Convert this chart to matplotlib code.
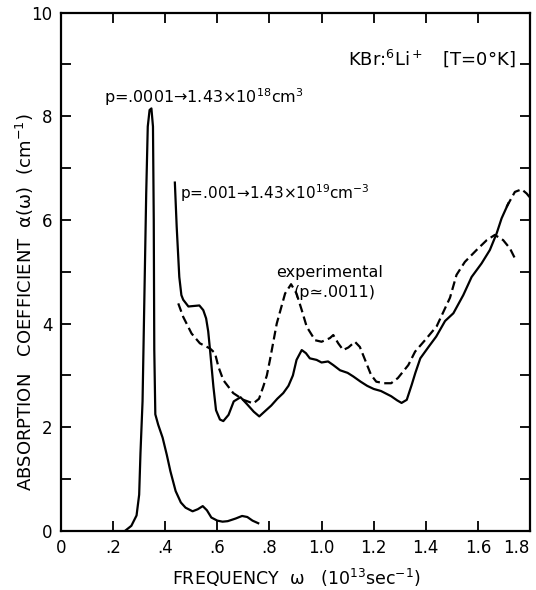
import numpy as np
import matplotlib
matplotlib.use("Agg")
import matplotlib.pyplot as plt

# Courbe p = .0001 (pic étroit)
w_low = [0.245, 0.27, 0.29, 0.30, 0.305, 0.313, 0.32, 0.327, 0.333, 0.34, 0.347, 0.353,
         0.356, 0.358, 0.362, 0.373, 0.39, 0.406, 0.42, 0.44, 0.46, 0.478, 0.505, 0.525,
         0.544, 0.56, 0.577, 0.60, 0.62, 0.64, 0.67, 0.695, 0.715, 0.735, 0.757]
a_low = [0.0, 0.1, 0.3, 0.7, 1.5, 2.5, 4.5, 6.5, 7.8, 8.12, 8.15, 7.8,
         6.0, 3.5, 2.25, 2.05, 1.8, 1.47, 1.15, 0.77, 0.55, 0.45, 0.38, 0.42,
         0.48, 0.40, 0.26, 0.20, 0.18, 0.19, 0.24, 0.29, 0.27, 0.20, 0.15]

# Courbe p = .001 (trait plein)
w_high = [0.437, 0.444, 0.454, 0.462, 0.469, 0.489, 0.51, 0.531, 0.546, 0.557, 0.565, 0.572,
          0.585, 0.595, 0.61, 0.623, 0.643, 0.663, 0.689, 0.715, 0.74, 0.761, 0.785, 0.807,
          0.83, 0.853, 0.873, 0.89, 0.904, 0.924, 0.94, 0.955, 0.981, 1.0, 1.025, 1.045,
          1.071, 1.10, 1.122, 1.15, 1.175, 1.20, 1.228, 1.267, 1.29, 1.307, 1.327, 1.346,
          1.36, 1.379, 1.412, 1.44, 1.474, 1.506, 1.544, 1.576, 1.614, 1.646, 1.672, 1.691,
          1.717]
a_high = [6.72, 5.87, 4.9, 4.55, 4.46, 4.33, 4.34, 4.35, 4.26, 4.1, 3.85, 3.49,
          2.78, 2.33, 2.15, 2.12, 2.24, 2.5, 2.58, 2.44, 2.3, 2.21, 2.32, 2.42,
          2.55, 2.66, 2.8, 3.0, 3.3, 3.49, 3.43, 3.33, 3.3, 3.25, 3.27, 3.2,
          3.1, 3.05, 2.98, 2.88, 2.8, 2.74, 2.7, 2.6, 2.52, 2.47, 2.53, 2.82,
          3.05, 3.33, 3.56, 3.75, 4.05, 4.2, 4.55, 4.9, 5.16, 5.42, 5.74, 6.03,
          6.32]

# Courbe expérimentale (tirets)
w_exp = [0.45, 0.469, 0.501, 0.533, 0.572, 0.591, 0.604, 0.623, 0.661, 0.70, 0.738, 0.76,
         0.776, 0.79, 0.802, 0.828, 0.86, 0.883, 0.904, 0.924, 0.943, 0.975, 1.0, 1.032,
         1.045, 1.064, 1.083, 1.103, 1.128, 1.147, 1.167, 1.19, 1.21, 1.24, 1.267, 1.293,
         1.333, 1.359, 1.397, 1.442, 1.493, 1.518, 1.55, 1.595, 1.634, 1.665, 1.697, 1.723,
         1.742]
a_exp = [4.39, 4.13, 3.81, 3.62, 3.52, 3.43, 3.17, 2.91, 2.66, 2.53, 2.46, 2.55,
         2.78, 3.0, 3.3, 4.0, 4.58, 4.76, 4.58, 4.26, 3.94, 3.68, 3.65, 3.72,
         3.78, 3.62, 3.49, 3.54, 3.65, 3.55, 3.3, 3.01, 2.88, 2.85, 2.85, 2.95,
         3.2, 3.46, 3.68, 3.95, 4.5, 4.94, 5.19, 5.42, 5.61, 5.71, 5.61, 5.45,
         5.26]

# Prolongement en tirets au-dessus de 1.7
w_tail = [1.71, 1.742, 1.768, 1.787, 1.80]
a_tail = [6.25, 6.54, 6.59, 6.51, 6.43]

x_ticks = [0, 0.2, 0.4, 0.6, 0.8, 1.0, 1.2, 1.4, 1.6, 1.8]
x_labels = ["0", ".2", ".4", ".6", ".8", "1.0", "1.2", "1.4", "1.6", "1.8"]
y_ticks = [0, 2, 4, 6, 8, 10]

fig = plt.figure(figsize=(5.36, 5.90), dpi=100)
ax = fig.add_axes([0.1138, 0.1, 0.875, 0.8788])

lw = 1.6
ax.plot(w_low, a_low, color="black", lw=lw)
ax.plot(w_high, a_high, color="black", lw=lw)
ax.plot(w_exp, a_exp, color="black", lw=lw, linestyle=(0, (4, 2)))
ax.plot(w_tail, a_tail, color="black", lw=lw, linestyle=(0, (4, 2)), clip_on=False)

ax.set_xlim(0, 1.8)
ax.set_ylim(0, 10)
ax.set_xticks(x_ticks)
ax.set_xticklabels(x_labels)
ax.set_yticks(y_ticks)
ax.set_yticks(range(0, 11), minor=True)
ax.tick_params(which="both", direction="in", top=True, right=True, length=7, width=1.3,
               labelsize=12, pad=6)
# le dernier label touche le bord droit
ax.get_xticklabels()[-1].set_horizontalalignment("right")
for s in ax.spines.values():
    s.set_linewidth(1.6)

# Annotations
ax.text(0.165, 8.37, r"p=.0001→1.43×10$^{18}$cm$^3$", fontsize=11.5, va="center")
ax.text(0.457, 6.52, r"p=.001→1.43×10$^{19}$cm$^{-3}$", fontsize=11, va="center")
ax.text(1.10, 9.12, r"KBr:$^6$Li$^+$   [T=0°K]", fontsize=13, va="center")
ax.text(1.03, 4.98, "experimental", fontsize=11.5, ha="center", va="center")
ax.text(1.05, 4.60, "(p≃.0011)", fontsize=11.5, ha="center", va="center")

fig.text(0.047, 0.487, r"ABSORPTION   COEFFICIENT  α(ω)  (cm$^{-1}$)", rotation=90,
         fontsize=13, ha="center", va="center")
fig.text(0.552, 0.0203, r"FREQUENCY  ω   (10$^{13}$sec$^{-1}$)",
         fontsize=12.5, ha="center", va="center")

fig.savefig("out.png", dpi=100)
